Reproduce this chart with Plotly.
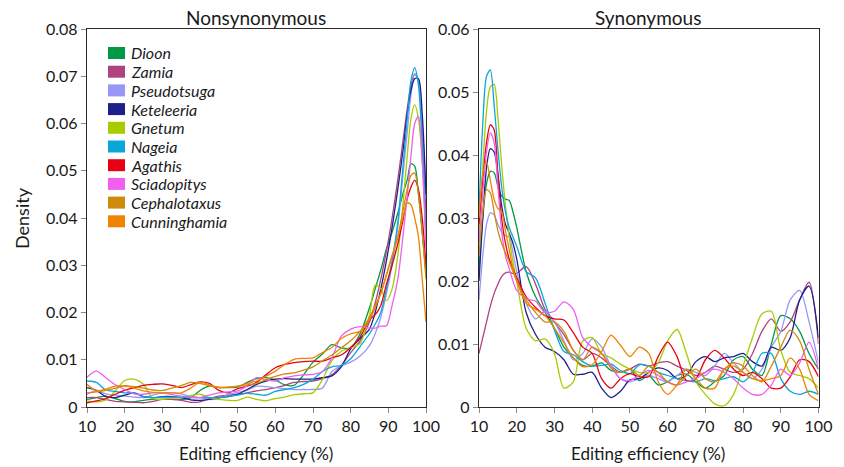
import plotly.graph_objects as go

species = ["Dioon", "Zamia", "Pseudotsuga", "Keteleeria", "Gnetum",
           "Nageia", "Agathis", "Sciadopitys", "Cephalotaxus", "Cunninghamia"]
colors = ["#009a44", "#b0427f", "#9797f7", "#1d2088", "#aacb00",
          "#0aa6da", "#e60012", "#f05ff0", "#cf8c0c", "#f08300"]

# ---- Nonsynonymous panel ----
x_ns = [10, 12.5, 15, 17.5, 20, 22.5, 25, 27.5, 30, 32.5, 35, 37.5, 40, 42.5, 45, 47.5,
        50, 52.5, 55, 57.5, 60, 62.5, 65, 67.5, 70, 72.5, 75, 77.5, 80, 82.5, 85,
        86.5, 88, 89.5, 91, 92.5, 94, 95, 96, 97, 98, 99, 100]

ns_dioon = [0.0016, 0.002, 0.0023, 0.0018, 0.0012, 0.0011, 0.0014, 0.0016, 0.0016, 0.0016, 0.0016, 0.0019,
            0.0035, 0.0044, 0.0041, 0.0041, 0.0042, 0.0052, 0.006, 0.0062, 0.0057, 0.0047, 0.0046, 0.0068,
            0.0095, 0.0112, 0.0132, 0.0125, 0.0125, 0.0155, 0.021,
            0.025, 0.029, 0.0335, 0.037, 0.041, 0.0455, 0.048, 0.0515, 0.051, 0.045, 0.037, 0.028]
ns_zamia = [0.002, 0.002, 0.0016, 0.0012, 0.0011, 0.001, 0.0009, 0.0012, 0.0016, 0.0016, 0.0014, 0.001,
            0.0011, 0.0018, 0.0023, 0.0025, 0.0027, 0.003, 0.0034, 0.0037, 0.0041, 0.0046, 0.0052, 0.0054,
            0.0055, 0.006, 0.0068, 0.0088, 0.0115, 0.014, 0.018,
            0.022, 0.027, 0.033, 0.04, 0.048, 0.057, 0.063, 0.068, 0.0705, 0.069, 0.058, 0.04]
ns_pseudotsuga = [0.0027, 0.0034, 0.0028, 0.0025, 0.0023, 0.0021, 0.002, 0.0025, 0.003, 0.003, 0.0028, 0.0022,
                  0.002, 0.0016, 0.0018, 0.0027, 0.0031, 0.0035, 0.0044, 0.0043, 0.0041, 0.0039, 0.0037, 0.0037,
                  0.0037, 0.004, 0.0075, 0.0087, 0.0095, 0.0108, 0.013,
                  0.0155, 0.019, 0.024, 0.03, 0.038, 0.05, 0.058, 0.066, 0.0705, 0.069, 0.06, 0.045]
ns_keteleeria = [0.0041, 0.0035, 0.0022, 0.002, 0.0025, 0.003, 0.0022, 0.002, 0.0022, 0.0022, 0.002, 0.0015,
                 0.0014, 0.0016, 0.002, 0.0022, 0.0027, 0.0037, 0.0048, 0.0055, 0.0059, 0.006, 0.0059, 0.0059,
                 0.0059, 0.0062, 0.0066, 0.0085, 0.0123, 0.0145, 0.0165,
                 0.02, 0.025, 0.031, 0.038, 0.046, 0.055, 0.062, 0.067, 0.0695, 0.0695, 0.062, 0.045]
ns_gnetum = [0.0013, 0.0011, 0.0015, 0.0034, 0.0056, 0.0059, 0.0048, 0.0018, 0.0016, 0.0019, 0.002, 0.0024,
             0.0027, 0.002, 0.0016, 0.0014, 0.0014, 0.0021, 0.0016, 0.0013, 0.0018, 0.0021, 0.0026, 0.0028,
             0.003, 0.0058, 0.0098, 0.0118, 0.0125, 0.0135, 0.0195,
             0.0258, 0.025, 0.0225, 0.025, 0.032, 0.044, 0.053, 0.061, 0.064, 0.061, 0.052, 0.035]
ns_nageia = [0.0055, 0.0052, 0.0036, 0.0033, 0.003, 0.003, 0.0022, 0.002, 0.0021, 0.0021, 0.0021, 0.002,
             0.002, 0.002, 0.002, 0.0023, 0.0025, 0.0029, 0.0027, 0.0025, 0.0033, 0.0037, 0.0041, 0.0048,
             0.0059, 0.0075, 0.0085, 0.0088, 0.0102, 0.0128, 0.0155,
             0.0175, 0.02, 0.025, 0.031, 0.039, 0.052, 0.061, 0.069, 0.0718, 0.068, 0.055, 0.036]
ns_agathis = [0.0009, 0.0013, 0.0018, 0.0027, 0.0035, 0.0041, 0.0046, 0.0048, 0.0049, 0.0046, 0.0041, 0.0047,
              0.0053, 0.005, 0.0035, 0.003, 0.0039, 0.0044, 0.0052, 0.0068, 0.0083, 0.009, 0.0094, 0.0096,
              0.0097, 0.0097, 0.0104, 0.011, 0.0126, 0.0148, 0.0185,
              0.0195, 0.0215, 0.026, 0.03, 0.0345, 0.04, 0.044, 0.0465, 0.048, 0.046, 0.04, 0.03]
ns_sciadopitys = [0.0063, 0.0076, 0.0062, 0.0047, 0.0037, 0.0028, 0.0027, 0.003, 0.003, 0.0026, 0.0023, 0.0021,
                  0.002, 0.0025, 0.003, 0.0032, 0.0034, 0.0045, 0.0062, 0.0058, 0.0055, 0.0062, 0.0066, 0.0068,
                  0.0069, 0.0075, 0.0104, 0.015, 0.0165, 0.017, 0.0167,
                  0.0167, 0.0171, 0.0172, 0.0215, 0.027, 0.037, 0.0445, 0.053, 0.06, 0.0615, 0.052, 0.033]
ns_cephalotaxus = [0.003, 0.0032, 0.0035, 0.004, 0.0045, 0.0043, 0.004, 0.0036, 0.0035, 0.004, 0.0045, 0.0052,
                   0.005, 0.0045, 0.0042, 0.0042, 0.0044, 0.0047, 0.005, 0.0058, 0.0065, 0.007, 0.0072, 0.0078,
                   0.0085, 0.0098, 0.011, 0.0125, 0.014, 0.016, 0.019,
                   0.0215, 0.024, 0.028, 0.032, 0.036, 0.042, 0.046, 0.049, 0.0495, 0.045, 0.037, 0.027]
ns_cunninghamia = [0.0048, 0.0034, 0.0038, 0.0044, 0.0044, 0.004, 0.0034, 0.0031, 0.003, 0.003, 0.003, 0.004,
                   0.0052, 0.0047, 0.0041, 0.0042, 0.0044, 0.005, 0.0055, 0.0065, 0.0076, 0.009, 0.0101, 0.0103,
                   0.0104, 0.0115, 0.0126, 0.0145, 0.0155, 0.016, 0.0185,
                   0.021, 0.024, 0.028, 0.032, 0.036, 0.0405, 0.0432, 0.0428, 0.04, 0.036, 0.027, 0.018]

# ---- Synonymous panel ----
x_s = [10, 11, 12, 13, 14, 15, 16, 17, 18, 19, 20,
       22.5, 25, 27.5, 30, 32.5, 35, 37.5, 40, 42.5, 45, 47.5, 50, 52.5, 55, 57.5, 60,
       62.5, 65, 67.5, 70, 72.5, 75, 77.5, 80, 82.5, 85, 87.5, 90, 92.5, 95, 97.5, 100]

s_dioon = [0.022, 0.03, 0.0355, 0.0374, 0.0372, 0.035, 0.0335, 0.033, 0.0328, 0.031, 0.0285,
           0.0215, 0.0175, 0.015, 0.0125, 0.0095, 0.0078, 0.0066, 0.0065, 0.007, 0.0058, 0.0055, 0.006,
           0.0042, 0.005, 0.0035, 0.004, 0.005, 0.0052, 0.004, 0.003, 0.004, 0.005, 0.0075, 0.008, 0.006,
           0.005, 0.01, 0.0145, 0.014, 0.012, 0.0085, 0.006]
s_zamia = [0.0085, 0.011, 0.0135, 0.016, 0.018, 0.0195, 0.0207, 0.0213, 0.0214, 0.0212, 0.0212,
           0.0223, 0.0195, 0.0155, 0.0135, 0.0115, 0.009, 0.0075, 0.0085, 0.0078, 0.0065, 0.0055, 0.006,
           0.0068, 0.0065, 0.007, 0.0072, 0.0065, 0.0058, 0.005, 0.0055, 0.0065, 0.006, 0.0055, 0.006, 0.0085,
           0.012, 0.014, 0.012, 0.0135, 0.017, 0.0198, 0.01]
s_pseudotsuga = [0.017, 0.024, 0.029, 0.0308, 0.0305, 0.029, 0.0278, 0.0272, 0.027, 0.0245, 0.0215,
                 0.0165, 0.014, 0.0152, 0.0135, 0.0105, 0.0075, 0.0085, 0.0108, 0.0095, 0.0065, 0.0045, 0.004,
                 0.0045, 0.005, 0.0045, 0.004, 0.005, 0.006, 0.0055, 0.005, 0.0065, 0.0085, 0.007, 0.0055, 0.0045,
                 0.006, 0.0095, 0.012, 0.017, 0.0185, 0.0135, 0.007]
s_keteleeria = [0.02, 0.03, 0.038, 0.041, 0.0405, 0.037, 0.032, 0.029, 0.0276, 0.026, 0.0235,
                0.015, 0.0115, 0.0095, 0.0088, 0.0075, 0.0052, 0.0052, 0.0055, 0.003, 0.0015, 0.0025, 0.0043,
                0.0045, 0.0055, 0.0062, 0.0058, 0.0045, 0.005, 0.0072, 0.008, 0.0072, 0.0078, 0.008, 0.0085, 0.0072,
                0.0065, 0.0095, 0.009, 0.011, 0.017, 0.0192, 0.011]
s_gnetum = [0.027, 0.038, 0.047, 0.0508, 0.0512, 0.046, 0.0385, 0.032, 0.027, 0.023, 0.02,
            0.0125, 0.0105, 0.0108, 0.0085, 0.003, 0.004, 0.0105, 0.011, 0.0085, 0.0078, 0.0068, 0.006,
            0.0055, 0.0055, 0.007, 0.0105, 0.0123, 0.0085, 0.004, 0.002, 0.0005, 0.0002, 0.002, 0.0065, 0.011,
            0.0148, 0.0152, 0.009, 0.0055, 0.005, 0.0045, 0.003]
s_nageia = [0.031, 0.045, 0.0525, 0.0535, 0.048, 0.041, 0.035, 0.031, 0.0285, 0.027, 0.0255,
            0.0215, 0.0205, 0.0165, 0.0122, 0.0088, 0.0083, 0.0072, 0.0065, 0.0066, 0.0068, 0.0058, 0.0053,
            0.0067, 0.0065, 0.0055, 0.005, 0.0045, 0.0042, 0.004, 0.0045, 0.0042, 0.0045, 0.0048, 0.004, 0.0055,
            0.0085, 0.0085, 0.0045, 0.0025, 0.002, 0.0025, 0.002]
s_agathis = [0.029, 0.036, 0.042, 0.0448, 0.044, 0.037, 0.03, 0.026, 0.0235, 0.022, 0.0205,
             0.0175, 0.0158, 0.0145, 0.014, 0.0138, 0.0118, 0.0095, 0.0085, 0.0045, 0.003, 0.0045, 0.0053,
             0.0048, 0.0048, 0.008, 0.0103, 0.008, 0.0042, 0.0045, 0.0075, 0.009, 0.0078, 0.006, 0.005, 0.0055,
             0.0045, 0.003, 0.003, 0.0048, 0.0075, 0.0072, 0.0048]
s_sciadopitys = [0.026, 0.034, 0.0405, 0.0435, 0.042, 0.035, 0.028, 0.024, 0.022, 0.02, 0.0185,
                 0.0172, 0.0168, 0.015, 0.0152, 0.0167, 0.0155, 0.011, 0.0095, 0.0085, 0.0065, 0.0045, 0.0042,
                 0.005, 0.0058, 0.005, 0.004, 0.0035, 0.004, 0.0045, 0.0055, 0.006, 0.0055, 0.0045, 0.003, 0.002,
                 0.002, 0.0035, 0.006, 0.005, 0.007, 0.0103, 0.006]
s_cephalotaxus = [0.024, 0.031, 0.0345, 0.034, 0.031, 0.028, 0.026, 0.0245, 0.023, 0.0215, 0.02,
                  0.017, 0.015, 0.0135, 0.0135, 0.012, 0.009, 0.0075, 0.0095, 0.0085, 0.0062, 0.0055, 0.006,
                  0.005, 0.0065, 0.0055, 0.004, 0.0035, 0.005, 0.006, 0.0045, 0.004, 0.006, 0.007, 0.0065, 0.005,
                  0.004, 0.0065, 0.0095, 0.0122, 0.0105, 0.006, 0.002]
s_cunninghamia = [0.03, 0.037, 0.039, 0.036, 0.033, 0.0315, 0.031, 0.028, 0.025, 0.022, 0.02,
                  0.0165, 0.0155, 0.0145, 0.0125, 0.0102, 0.0078, 0.0064, 0.0067, 0.0088, 0.0114, 0.0098, 0.008,
                  0.0095, 0.0085, 0.004, 0.002, 0.0035, 0.006, 0.0045, 0.003, 0.003, 0.006, 0.0065, 0.0055, 0.0045,
                  0.0042, 0.0045, 0.005, 0.0078, 0.006, 0.002, 0.001]

ns_series = [ns_dioon, ns_zamia, ns_pseudotsuga, ns_keteleeria, ns_gnetum,
             ns_nageia, ns_agathis, ns_sciadopitys, ns_cephalotaxus, ns_cunninghamia]
s_series = [s_dioon, s_zamia, s_pseudotsuga, s_keteleeria, s_gnetum,
            s_nageia, s_agathis, s_sciadopitys, s_cephalotaxus, s_cunninghamia]

x_ticks = [10, 20, 30, 40, 50, 60, 70, 80, 90, 100]
ns_yticks = [0, 0.01, 0.02, 0.03, 0.04, 0.05, 0.06, 0.07, 0.08]
s_yticks = [0, 0.01, 0.02, 0.03, 0.04, 0.05, 0.06]

FONT = "Lato"
W, H = 844, 467
fig = go.Figure()

for name, col, ys in zip(species, colors, ns_series):
    fig.add_trace(go.Scatter(x=x_ns, y=ys, mode="lines",
                             line=dict(color=col, width=1.3, shape="spline", smoothing=0.8),
                             xaxis="x", yaxis="y", showlegend=False, name=name))
for name, col, ys in zip(species, colors, s_series):
    fig.add_trace(go.Scatter(x=x_s, y=ys, mode="lines",
                             line=dict(color=col, width=1.3, shape="spline", smoothing=0.8),
                             xaxis="x2", yaxis="y2", showlegend=False, name=name))

axis_common = dict(showline=True, mirror=True, linecolor="#2a2a2a", linewidth=1.3,
                   ticks="outside", tickcolor="#8a8a8a", ticklen=5, tickwidth=1.3, automargin=False,
                   showgrid=False, zeroline=False, tickfont=dict(family=FONT, size=16, color="#1a1a1a"))

# legend drawn as colour boxes + italic labels in the upper-left of the left panel
shapes = []
annotations = []
row0, step = 53.0, 18.7
for i, (name, col) in enumerate(zip(species, colors)):
    cy = row0 + i * step
    shapes.append(dict(type="rect", xref="paper", yref="paper",
                       x0=108 / W, x1=125 / W, y0=1 - (cy + 6) / H, y1=1 - (cy - 6) / H,
                       fillcolor=col, line=dict(width=0)))
    annotations.append(dict(text="<i>%s</i>" % name, x=129 / W, y=1 - cy / H, xref="paper", yref="paper",
                            showarrow=False, xanchor="left", yanchor="middle",
                            font=dict(family=FONT, size=16, color="#1a1a1a")))

annotations += [
    dict(text="Nonsynonymous", x=256 / W, y=1 - 17 / H, xref="paper", yref="paper",
         showarrow=False, font=dict(family=FONT, size=19), xanchor="center", yanchor="middle"),
    dict(text="Synonymous", x=648 / W, y=1 - 17 / H, xref="paper", yref="paper",
         showarrow=False, font=dict(family=FONT, size=19), xanchor="center", yanchor="middle"),
    dict(text="Editing efficiency (%)", x=256 / W, y=1 - 453 / H, xref="paper", yref="paper",
         showarrow=False, font=dict(family=FONT, size=17), xanchor="center", yanchor="middle"),
    dict(text="Editing efficiency (%)", x=648 / W, y=1 - 453 / H, xref="paper", yref="paper",
         showarrow=False, font=dict(family=FONT, size=17), xanchor="center", yanchor="middle"),
    dict(text="Density", x=22 / W, y=1 - 218 / H, xref="paper", yref="paper", textangle=-90,
         showarrow=False, font=dict(family=FONT, size=18), xanchor="center", yanchor="middle"),
]

fig.update_layout(
    width=W, height=H,
    margin=dict(l=0, r=0, t=0, b=0, autoexpand=False),
    paper_bgcolor="white", plot_bgcolor="white",
    font=dict(family=FONT, color="#1a1a1a"),
    showlegend=False,
    xaxis=dict(domain=[87 / W, 426 / W], range=[10, 100], tickvals=x_ticks, anchor="y", **axis_common),
    yaxis=dict(domain=[60 / H, 438 / H], range=[0, 0.08], tickvals=ns_yticks,
               ticktext=["0"] + ["%.2f" % v for v in ns_yticks[1:]], anchor="x", **axis_common),
    xaxis2=dict(domain=[479 / W, 818.5 / W], range=[10, 100], tickvals=x_ticks, anchor="y2", **axis_common),
    yaxis2=dict(domain=[60 / H, 438 / H], range=[0, 0.06], tickvals=s_yticks,
                ticktext=["0"] + ["%.2f" % v for v in s_yticks[1:]], anchor="x2", **axis_common),
    shapes=shapes,
    annotations=annotations,
)

fig.write_html("out.html")
